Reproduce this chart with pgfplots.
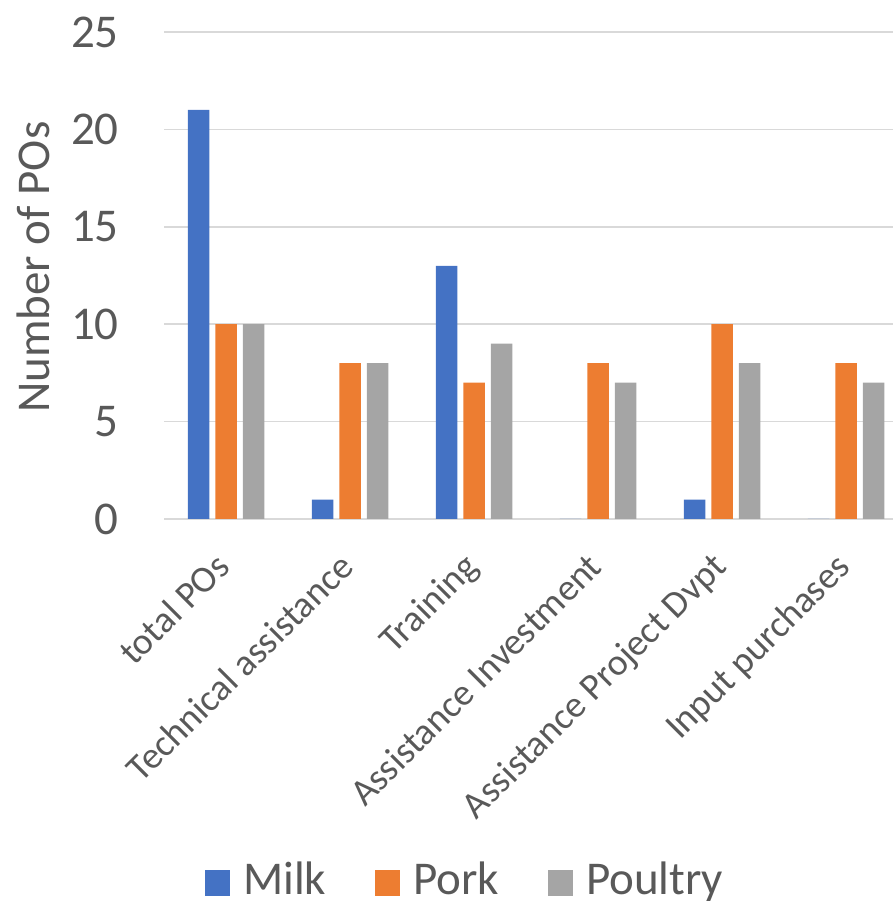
\documentclass[border=0pt]{standalone}
\usepackage{fontspec}
\setmainfont{Carlito}
\usepackage{pgfplots}
\pgfplotsset{compat=1.18}
\definecolor{cmilk}{HTML}{4472C4}
\definecolor{cpork}{HTML}{ED7D31}
\definecolor{cpoul}{HTML}{A5A5A5}
\definecolor{cgrid}{HTML}{D9D9D9}
\definecolor{ctext}{HTML}{595959}
\begin{document}
\begin{tikzpicture}[x=1pt,y=1pt]
\useasboundingbox (0,0) rectangle (892,901);
\begin{axis}[
  at={(164pt,382pt)}, anchor=south west,
  scale only axis, width=744pt, height=487pt,
  ybar=6pt, bar width=21.5pt,
  xmin=-0.5, xmax=5.5, ymin=0, ymax=25,
  xtick={0,1,2,3,4,5},
  xticklabels={total POs, Technical assistance, Training, Assistance Investment, Assistance Project Dvpt, Input purchases},
  ytick={0,5,10,15,20,25},
  axis line style={draw=none},
  major tick length=0pt,
  ymajorgrids, grid style={color=cgrid, line width=1.5pt},
  yticklabel style={font=\fontsize{47}{56}\selectfont, color=ctext, inner sep=0pt, anchor=east, xshift=-45pt},
  xticklabel style={font=\fontsize{37.5}{45}\selectfont, color=ctext, inner sep=0pt, xshift=6pt, yshift=-50pt, rotate=45, anchor=base east},
  /pgf/number format/assume math mode=true,
  ylabel={Number of POs},
  every axis y label/.style={at={(axis description cs:-0.1545,0.517)}, rotate=90, anchor=base, font=\fontsize{47}{56}\selectfont, color=ctext},
  legend columns=3,
  legend style={draw=none, at={(axis description cs:0.4035,-0.740)}, anchor=center,
    font=\fontsize{47}{56}\selectfont, text=ctext,
    /tikz/every even column/.append style={column sep=49pt},
    nodes={inner sep=0pt}},
  legend image code/.code={\fill[#1] (0pt,-17pt) rectangle (25pt,9pt); \path (38pt,0pt);},
  clip=false,
]
\addplot[fill=cmilk, draw=none] coordinates {(0,21) (1,1) (2,13) (3,0) (4,1) (5,0)};
\addplot[fill=cpork, draw=none] coordinates {(0,10) (1,8) (2,7) (3,8) (4,10) (5,8)};
\addplot[fill=cpoul, draw=none] coordinates {(0,10) (1,8) (2,9) (3,7) (4,8) (5,7)};
\legend{Milk, Pork, Poultry}
\end{axis}
\end{tikzpicture}
\end{document}
